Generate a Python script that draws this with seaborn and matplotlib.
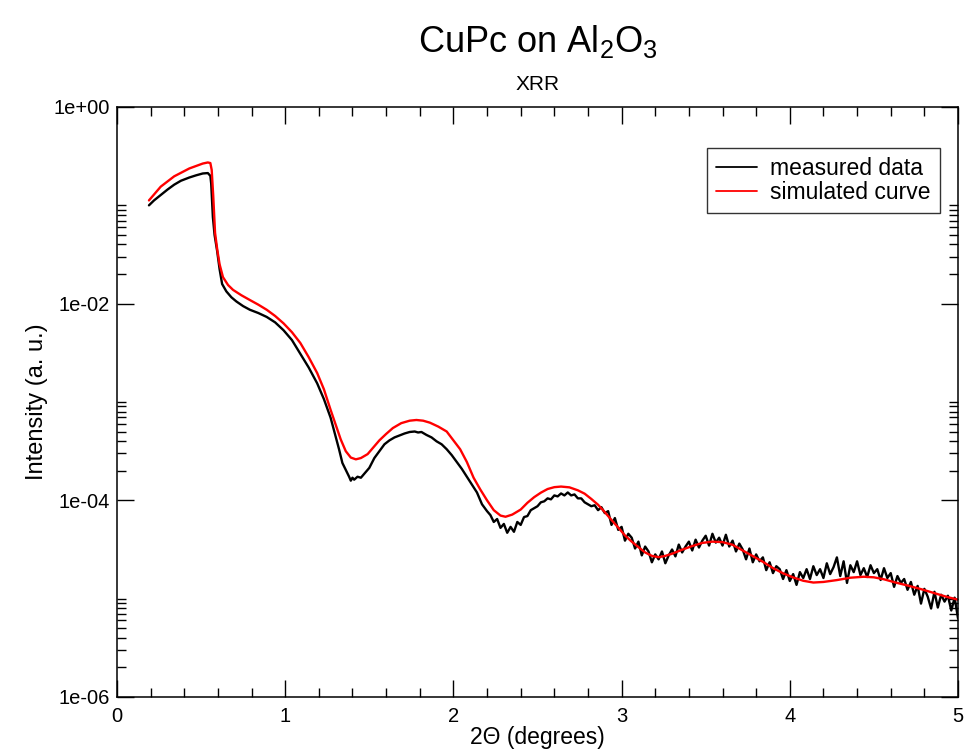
import numpy as np
import pandas as pd
import matplotlib
matplotlib.use("Agg")
import matplotlib.pyplot as plt
import matplotlib.ticker as mticker
import seaborn as sns

# Estilo general (tipo Grace)
sns.set_theme(style="ticks")
plt.rcParams['font.family'] = ['Liberation Sans', 'DejaVu Sans']
plt.rcParams['mathtext.fontset'] = 'custom'
plt.rcParams['mathtext.rm'] = 'Liberation Sans'
plt.rcParams['mathtext.default'] = 'rm'
plt.rcParams['text.color'] = 'black'
plt.rcParams['axes.labelcolor'] = 'black'

# Datos medidos: 2Theta (grados) y log10 de la intensidad
meas_theta = [
    0.19, 0.22, 0.26, 0.30, 0.34, 0.38, 0.43, 0.47, 0.51, 0.54, 0.555, 0.56,
    0.57, 0.58, 0.595, 0.61, 0.625, 0.65, 0.68, 0.71, 0.75, 0.79, 0.84, 0.89,
    0.94, 0.99, 1.04, 1.09, 1.14, 1.19, 1.23, 1.27, 1.30, 1.32, 1.34, 1.36,
    1.38, 1.39, 1.40, 1.41, 1.43, 1.45, 1.47, 1.50, 1.53, 1.56, 1.59, 1.62,
    1.65, 1.68, 1.71, 1.74, 1.77, 1.79, 1.81, 1.84, 1.87, 1.90, 1.93, 1.96,
    1.99, 2.02, 2.05, 2.08, 2.11, 2.14, 2.17,
    2.20, 2.22, 2.24, 2.26, 2.28, 2.30, 2.32, 2.34, 2.36, 2.38,
    2.40, 2.42, 2.44, 2.46, 2.48, 2.50, 2.52, 2.54, 2.56, 2.58,
    2.60, 2.62, 2.64, 2.66, 2.68, 2.70, 2.72, 2.74, 2.76, 2.78,
    2.80, 2.82, 2.84, 2.86, 2.88, 2.90, 2.92, 2.94, 2.96, 2.98,
    3.00, 3.02, 3.04, 3.06, 3.08, 3.10, 3.12, 3.14, 3.16, 3.18,
    3.20, 3.22, 3.24, 3.26, 3.28, 3.30, 3.32, 3.34, 3.36, 3.38,
    3.40, 3.42, 3.44, 3.46, 3.48, 3.50, 3.52, 3.54, 3.56, 3.58,
    3.60, 3.62, 3.64, 3.66, 3.68, 3.70, 3.72, 3.74, 3.76, 3.78,
    3.80, 3.82, 3.84, 3.86, 3.88, 3.90, 3.92, 3.94, 3.96, 3.98,
    4.00, 4.02, 4.04, 4.06, 4.08, 4.10, 4.12, 4.14, 4.16, 4.18,
    4.20, 4.22, 4.24, 4.26, 4.28, 4.30, 4.32, 4.34, 4.36, 4.38,
    4.40, 4.42, 4.44, 4.46, 4.48, 4.50, 4.52, 4.54, 4.56, 4.58,
    4.60, 4.62, 4.64, 4.66, 4.68, 4.70, 4.72, 4.74, 4.76, 4.78,
    4.80, 4.82, 4.84, 4.86, 4.88, 4.90, 4.92, 4.94, 4.96, 4.98, 5.00,
]
meas_log = [
    -1.00, -0.95, -0.895, -0.84, -0.79, -0.75, -0.717, -0.695, -0.676, -0.672, -0.70, -0.78,
    -1.12, -1.30, -1.46, -1.65, -1.80, -1.875, -1.935, -1.978, -2.025, -2.062, -2.095, -2.135,
    -2.19, -2.27, -2.37, -2.51, -2.65, -2.81, -2.97, -3.16, -3.35, -3.48, -3.62, -3.69,
    -3.76, -3.80, -3.77, -3.79, -3.76, -3.77, -3.73, -3.67, -3.57, -3.50, -3.43, -3.39,
    -3.36, -3.34, -3.32, -3.305, -3.30, -3.31, -3.305, -3.335, -3.36, -3.40, -3.43, -3.48,
    -3.54, -3.61, -3.68, -3.76, -3.84, -3.92, -4.04,
    -4.11, -4.15, -4.22, -4.19, -4.28, -4.24, -4.33, -4.27, -4.32, -4.22,
    -4.25, -4.17, -4.16, -4.10, -4.08, -4.06, -4.02, -4.01, -3.98, -3.99,
    -3.95, -3.96, -3.93, -3.95, -3.92, -3.95, -3.94, -3.98, -3.98, -4.02,
    -4.04, -4.06, -4.05, -4.10, -4.07, -4.13, -4.11, -4.25, -4.18, -4.30,
    -4.27, -4.41, -4.34, -4.38, -4.49, -4.42, -4.56, -4.47, -4.52, -4.63,
    -4.55, -4.60, -4.52, -4.64, -4.56, -4.50, -4.57, -4.45, -4.53, -4.47,
    -4.42, -4.51, -4.40, -4.48, -4.41, -4.36, -4.46, -4.34, -4.43, -4.38,
    -4.46, -4.35, -4.47, -4.41, -4.52, -4.44, -4.50, -4.60, -4.49, -4.63,
    -4.55, -4.62, -4.58, -4.71, -4.63, -4.74, -4.67, -4.70, -4.80, -4.71,
    -4.82, -4.75, -4.86, -4.73, -4.79, -4.70, -4.80, -4.67, -4.76, -4.70,
    -4.79, -4.64, -4.75, -4.68, -4.58, -4.77, -4.62, -4.84, -4.66, -4.73,
    -4.62, -4.76, -4.69, -4.78, -4.66, -4.74, -4.70, -4.81, -4.69, -4.79,
    -4.74, -4.88, -4.77, -4.84, -4.80, -4.91, -4.83, -4.96, -4.87, -5.05,
    -4.90, -4.98, -5.10, -4.93, -5.09, -4.96, -5.03, -4.97, -5.12, -4.99, -5.20,
]

# Curva simulada
sim_theta = [
    0.19, 0.26, 0.34, 0.43, 0.51, 0.54, 0.555, 0.563, 0.572, 0.583, 0.596, 0.61,
    0.63, 0.66, 0.69, 0.74, 0.79, 0.84, 0.89, 0.94, 0.99, 1.04, 1.09, 1.14,
    1.19, 1.23, 1.27, 1.30, 1.33, 1.36, 1.39, 1.42, 1.45, 1.49, 1.53, 1.56,
    1.60, 1.64, 1.69, 1.74, 1.78, 1.82, 1.86, 1.91, 1.96, 2.00, 2.04, 2.08,
    2.12, 2.16, 2.20, 2.24, 2.28, 2.31, 2.35, 2.40, 2.44, 2.48, 2.52, 2.56,
    2.60, 2.64, 2.69, 2.74, 2.78, 2.82, 2.86, 2.90, 2.94, 2.98, 3.02, 3.06,
    3.10, 3.14, 3.18, 3.22, 3.26, 3.30, 3.36, 3.42, 3.48, 3.54, 3.60, 3.66,
    3.72, 3.78, 3.84, 3.90, 3.96, 4.02, 4.08, 4.14, 4.20, 4.28, 4.36, 4.44,
    4.50, 4.56, 4.62, 4.70, 4.78, 4.86, 4.94, 5.00,
]
sim_log = [
    -0.95, -0.81, -0.705, -0.625, -0.575, -0.564, -0.57, -0.64, -0.90, -1.28, -1.45, -1.60,
    -1.73, -1.81, -1.86, -1.915, -1.963, -2.01, -2.062, -2.125, -2.20, -2.29, -2.40, -2.545,
    -2.705, -2.87, -3.08, -3.23, -3.38, -3.50, -3.565, -3.583, -3.570, -3.53, -3.45, -3.39,
    -3.325, -3.265, -3.215, -3.19, -3.183, -3.19, -3.21, -3.25, -3.30, -3.39, -3.48, -3.61,
    -3.77, -3.89, -4.00, -4.10, -4.155, -4.167, -4.145, -4.094, -4.025, -3.968, -3.922, -3.885,
    -3.866, -3.860, -3.868, -3.898, -3.932, -3.986, -4.045, -4.12, -4.20, -4.277, -4.357, -4.42,
    -4.476, -4.53, -4.565, -4.578, -4.565, -4.543, -4.502, -4.465, -4.433, -4.420, -4.425, -4.452,
    -4.51, -4.567, -4.625, -4.689, -4.742, -4.784, -4.818, -4.836, -4.83, -4.811, -4.787, -4.777,
    -4.783, -4.803, -4.832, -4.866, -4.903, -4.944, -4.985, -5.01,
]

df = pd.concat([
    pd.DataFrame({'theta': meas_theta, 'I': 10 ** np.array(meas_log), 'serie': 'measured data'}),
    pd.DataFrame({'theta': sim_theta, 'I': 10 ** np.array(sim_log), 'serie': 'simulated curve'}),
], ignore_index=True)

fig = plt.figure(figsize=(9.68, 7.53), dpi=100)
ax = fig.add_axes([117 / 968, 56 / 753, 841 / 968, 590 / 753])

sns.lineplot(data=df, x='theta', y='I', hue='serie', palette=['black', '#ff0000'],
             estimator=None, sort=False, linewidth=1.7, ax=ax)

ax.set_yscale('log')
ax.set_xlim(0, 5)
ax.set_ylim(1e-6, 1)

# Ticks estilo Grace: mayores cada 2 décadas
ax.xaxis.set_major_locator(mticker.MultipleLocator(1))
ax.xaxis.set_minor_locator(mticker.MultipleLocator(0.2))
ax.xaxis.set_major_formatter(mticker.FormatStrFormatter('%g'))
ax.yaxis.set_major_locator(mticker.FixedLocator([1e-6, 1e-4, 1e-2, 1e0]))
minor_y = [k * 10.0 ** n for n in (-6, -4, -2) for k in range(2, 11)]
ax.yaxis.set_minor_locator(mticker.FixedLocator(minor_y))
ax.yaxis.set_minor_formatter(mticker.NullFormatter())
ax.yaxis.set_major_formatter(mticker.FuncFormatter(lambda v, p: '1e%+03d' % int(round(np.log10(v)))))

ax.tick_params(which='both', direction='in', top=True, right=True, colors='black',
               labelsize=14.5, width=1.0)
ax.tick_params(which='major', length=12, pad=5)
ax.tick_params(which='minor', length=6.5)
ax.tick_params(axis='x', which='major', pad=7)
for s in ax.spines.values():
    s.set_color('black')
    s.set_linewidth(1.1)

ax.set_xlabel('2Θ (degrees)', fontsize=16.5, labelpad=0)
ax.set_ylabel('Intensity (a. u.)', fontsize=17, labelpad=4)

fig.text(537.5 / 968, 1 - 42 / 753, 'CuPc on Al$_2$O$_3$', fontsize=26, ha='center', va='center')
fig.text(537.5 / 968, 1 - 84 / 753, 'XRR', fontsize=15, ha='center', va='center')

leg = ax.legend(loc='upper right', bbox_to_anchor=((940 - 117) / 841, (697 - 148) / 590),
                fontsize=16.5, frameon=True, fancybox=False, handlelength=1.75,
                handletextpad=0.6, borderpad=0.4, labelspacing=0.05, borderaxespad=0)
leg.get_frame().set_edgecolor('black')
leg.get_frame().set_linewidth(1.0)
for line in leg.get_lines():
    line.set_linewidth(1.3)

fig.savefig('out.png', dpi=100, facecolor='white')
